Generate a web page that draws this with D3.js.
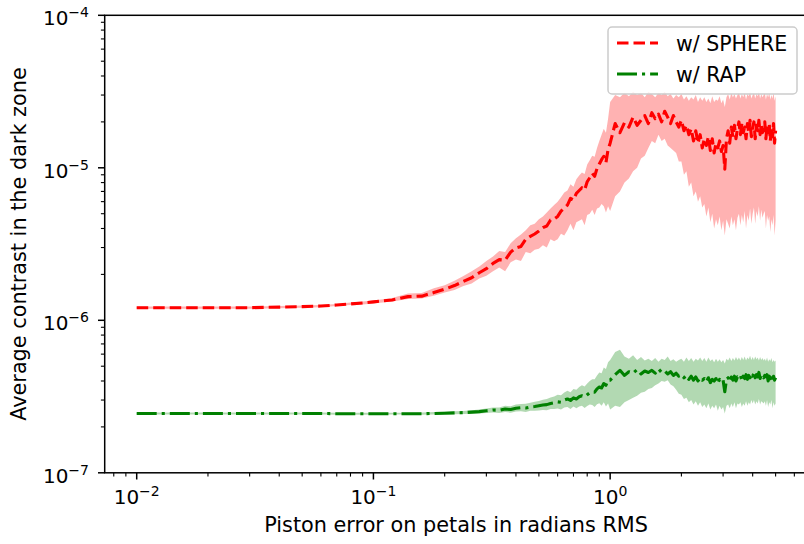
<!DOCTYPE html>
<html>
<head>
<meta charset="utf-8">
<script src="https://d3js.org/d3.v7.min.js"></script>
<style>
  body { margin: 0; background: #fff; }
  text { font-family: "DejaVu Sans", sans-serif; fill: #000; }
</style>
</head>
<body>
<svg id="chart" width="804" height="544"></svg>
<script>
// piston error (rad RMS)
var pistonRms = [
  0.01, 0.015, 0.02, 0.03, 0.04, 0.05, 0.06, 0.07, 0.08, 0.09, 0.10,
  0.12, 0.14, 0.16, 0.18, 0.20, 0.22, 0.24, 0.26, 0.28, 0.30, 0.32, 0.34, 0.36, 0.38, 0.40,
  0.42, 0.44, 0.46, 0.48, 0.50, 0.52, 0.54, 0.56, 0.58, 0.60, 0.62, 0.64, 0.66, 0.68, 0.70,
  0.72, 0.74, 0.76, 0.78, 0.80, 0.82, 0.84, 0.86, 0.88, 0.90, 0.92, 0.94, 0.96, 0.98,
  1.00, 1.05, 1.10, 1.15, 1.20, 1.25, 1.30, 1.35, 1.40, 1.45,
  1.50, 1.55, 1.60, 1.65, 1.70, 1.75, 1.80, 1.85, 1.90, 1.95,
  2.00, 2.05, 2.10, 2.15, 2.20, 2.25, 2.30, 2.35, 2.40, 2.45,
  2.50, 2.55, 2.60, 2.65, 2.70, 2.75, 2.80, 2.85, 2.90, 2.95,
  3.00, 3.05, 3.10, 3.15, 3.20, 3.25, 3.30, 3.35, 3.40, 3.45,
  3.50, 3.55, 3.60, 3.65, 3.70, 3.75, 3.80, 3.85, 3.90, 3.95,
  4.00, 4.05, 4.10, 4.15, 4.20, 4.25, 4.30, 4.35, 4.40, 4.45,
  4.50, 4.55, 4.60, 4.65, 4.70, 4.75, 4.80, 4.85, 4.90, 4.95,
  5.00
];

// w/ SPHERE, in units of 1e-6
var sphereMean = [
  1.21, 1.21, 1.21, 1.21, 1.22, 1.23, 1.24, 1.26, 1.28, 1.30, 1.32,
  1.36, 1.43, 1.44, 1.52, 1.60, 1.69, 1.80, 1.90, 2.05, 2.18, 2.36, 2.50, 2.48, 2.80, 2.98,
  3.05, 3.40, 3.55, 3.68, 3.85, 4.05, 4.15, 4.55, 4.62, 4.80, 5.20, 5.45, 5.70, 6.30, 6.15,
  6.80, 7.10, 7.40, 7.15, 8.10, 8.60, 9.20, 8.80, 9.90, 10.6, 11.3, 11.9, 10.8, 13.2,
  14.5, 19.5, 17.0, 19.8, 18.5, 21.5, 19.0, 20.5, 22.0, 19.5,
  23.0, 21.0, 22.5, 20.0, 23.5, 21.5, 19.5, 22.0, 20.0, 18.5,
  20.5, 17.5, 19.0, 16.5, 18.0, 15.0, 17.5, 14.5, 16.5, 13.5,
  15.5, 14.0, 16.0, 13.0, 15.5, 12.5, 14.5, 13.5, 15.0, 12.8,
  14.0, 9.8, 15.5, 17.5, 14.5, 18.5, 16.0, 19.0, 15.5, 18.0,
  20.0, 16.5, 19.5, 17.0, 18.5, 15.5, 19.5, 17.0, 20.5, 16.0,
  18.5, 20.0, 15.5, 19.0, 17.5, 20.5, 16.5, 19.5, 17.0, 18.0,
  20.0, 15.5, 19.0, 17.0, 19.5, 15.0, 18.5, 16.0, 19.5, 14.5,
  17.5
];
var sphereLo = [
  1.19, 1.19, 1.19, 1.19, 1.20, 1.21, 1.22, 1.24, 1.26, 1.27, 1.29,
  1.33, 1.38, 1.39, 1.45, 1.52, 1.58, 1.68, 1.74, 1.88, 1.96, 2.10, 2.22, 2.10, 2.40, 2.50,
  2.45, 2.80, 2.75, 2.90, 2.95, 3.10, 3.00, 3.40, 3.30, 3.40, 3.70, 3.60, 3.90, 4.30, 3.90,
  4.40, 4.50, 4.60, 4.20, 4.90, 5.00, 5.30, 4.90, 5.40, 5.50, 5.80, 5.60, 5.10, 5.60,
  5.2, 6.5, 7.0, 8.0, 8.5, 9.5, 10.0, 11.5, 12.0, 13.5,
  15.0, 14.5, 16.5, 15.0, 15.5, 14.0, 13.5, 13.0, 12.5, 11.0,
  11.0, 9.0, 9.5, 7.5, 8.0, 6.5, 7.0, 6.0, 6.5, 5.5,
  5.8, 4.8, 5.5, 4.4, 5.0, 4.0, 4.6, 4.2, 4.8, 3.9,
  4.5, 3.6, 4.6, 4.3, 4.0, 4.8, 4.2, 4.6, 3.9, 4.7,
  5.0, 4.2, 4.9, 4.4, 5.2, 4.0, 4.9, 4.5, 5.4, 4.3,
  5.0, 5.5, 4.3, 5.2, 4.8, 5.6, 4.5, 5.3, 4.7, 5.0,
  5.2, 4.0, 4.9, 4.5, 4.8, 3.8, 4.6, 4.2, 4.9, 3.6,
  4.5
];
var sphereHi = [
  1.23, 1.23, 1.23, 1.23, 1.24, 1.25, 1.26, 1.28, 1.31, 1.33, 1.35,
  1.40, 1.50, 1.51, 1.62, 1.70, 1.82, 1.95, 2.10, 2.25, 2.45, 2.62, 2.85, 2.80, 3.20, 3.45,
  3.65, 3.90, 4.20, 4.30, 4.60, 4.80, 5.10, 5.40, 5.70, 6.00, 6.40, 6.90, 7.10, 7.80, 7.50,
  8.40, 8.90, 9.30, 9.10, 10.5, 11.2, 12.0, 11.8, 13.5, 15.0, 16.5, 18.0, 17.0, 21.0,
  27.0, 30.0, 29.0, 31.0, 29.5, 31.5, 30.0, 31.0, 29.0, 31.5,
  30.5, 29.0, 31.0, 30.0, 31.5, 29.5, 30.5, 28.5, 30.0, 29.0,
  30.5, 28.0, 29.5, 27.5, 29.0, 28.0, 30.0, 27.0, 29.0, 27.5,
  29.0, 27.0, 28.5, 26.5, 29.5, 27.0, 28.0, 27.5, 29.5, 26.5,
  28.0, 25.0, 29.0, 30.5, 28.0, 31.0, 29.0, 30.5, 28.5, 30.0,
  31.0, 28.5, 30.5, 29.0, 31.0, 28.0, 30.5, 29.5, 31.5, 28.5,
  30.0, 31.0, 28.5, 30.5, 29.5, 31.5, 28.5, 30.5, 29.0, 30.0,
  31.0, 28.0, 30.5, 29.0, 31.0, 28.0, 30.0, 28.5, 31.0, 27.5,
  29.5
];

// w/ RAP, in units of 1e-7
var rapMean = [
  2.45, 2.45, 2.45, 2.45, 2.45, 2.45, 2.45, 2.44, 2.44, 2.44, 2.44,
  2.44, 2.44, 2.44, 2.45, 2.46, 2.47, 2.48, 2.50, 2.52, 2.55, 2.58, 2.57, 2.62, 2.60, 2.65,
  2.67, 2.66, 2.70, 2.72, 2.75, 2.78, 2.80, 2.85, 2.88, 2.92, 2.90, 3.00, 3.05, 2.98, 3.10,
  3.05, 3.15, 3.20, 3.15, 3.25, 3.35, 3.40, 3.38, 3.55, 3.65, 3.60, 3.85, 3.75, 4.05,
  4.05, 4.40, 4.70, 4.35, 4.60, 4.50, 4.75, 4.45, 4.65, 4.55,
  4.70, 4.50, 4.80, 4.55, 4.65, 4.45, 4.60, 4.35, 4.50, 4.30,
  4.40, 4.20, 4.35, 4.10, 4.30, 4.05, 4.25, 4.00, 4.20, 4.05,
  4.15, 3.95, 4.20, 3.90, 4.10, 4.00, 4.15, 3.85, 4.10, 3.95,
  4.05, 3.40, 4.10, 4.20, 3.95, 4.25, 4.05, 4.30, 4.00, 4.25,
  4.20, 4.35, 4.05, 4.30, 4.15, 4.40, 4.10, 4.35, 4.20, 4.45,
  4.30, 4.50, 4.20, 4.40, 4.25, 4.55, 4.15, 4.40, 4.30, 4.20,
  4.35, 4.10, 4.40, 4.00, 4.30, 4.15, 4.45, 3.95, 4.30, 4.05,
  4.20
];
var rapLo = [
  2.41, 2.41, 2.41, 2.41, 2.41, 2.41, 2.41, 2.40, 2.40, 2.40, 2.40,
  2.41, 2.41, 2.40, 2.41, 2.42, 2.42, 2.43, 2.44, 2.45, 2.47, 2.49, 2.47, 2.50, 2.48, 2.52,
  2.53, 2.50, 2.55, 2.55, 2.56, 2.58, 2.57, 2.62, 2.62, 2.64, 2.60, 2.68, 2.70, 2.62, 2.72,
  2.65, 2.72, 2.75, 2.66, 2.74, 2.80, 2.78, 2.70, 2.82, 2.86, 2.75, 2.90, 2.72, 2.85,
  2.60, 2.75, 2.70, 2.90, 3.00, 3.10, 3.20, 3.35, 3.40, 3.55,
  3.60, 3.75, 3.85, 4.00, 3.95, 4.05, 3.80, 3.70, 3.50, 3.30,
  3.25, 3.05, 3.10, 2.90, 3.00, 2.80, 2.95, 2.75, 2.90, 2.70,
  2.80, 2.65, 2.85, 2.60, 2.75, 2.65, 2.80, 2.55, 2.75, 2.60,
  2.70, 2.45, 2.75, 2.80, 2.65, 2.85, 2.70, 2.90, 2.65, 2.85,
  2.80, 2.90, 2.70, 2.85, 2.75, 2.95, 2.75, 2.90, 2.80, 3.00,
  2.85, 3.00, 2.80, 2.95, 2.85, 3.05, 2.80, 2.95, 2.90, 2.85,
  2.95, 2.75, 3.00, 2.70, 2.90, 2.80, 3.00, 2.65, 2.90, 2.75,
  2.85
];
var rapHi = [
  2.49, 2.49, 2.49, 2.49, 2.49, 2.49, 2.49, 2.48, 2.48, 2.48, 2.48,
  2.48, 2.48, 2.49, 2.50, 2.51, 2.53, 2.54, 2.57, 2.60, 2.64, 2.68, 2.68, 2.75, 2.73, 2.80,
  2.83, 2.84, 2.88, 2.92, 2.96, 3.01, 3.05, 3.12, 3.16, 3.25, 3.22, 3.36, 3.45, 3.38, 3.55,
  3.50, 3.65, 3.75, 3.68, 3.85, 4.00, 4.10, 4.10, 4.35, 4.55, 4.50, 4.90, 4.80, 5.30,
  5.50, 6.20, 6.40, 5.80, 5.60, 5.90, 5.50, 5.75, 5.45, 5.60,
  5.40, 5.65, 5.35, 5.60, 5.50, 5.80, 5.40, 5.55, 5.35, 5.50,
  5.60, 5.35, 5.70, 5.40, 5.65, 5.35, 5.60, 5.45, 5.70, 5.40,
  5.65, 5.35, 5.70, 5.40, 5.55, 5.30, 5.60, 5.35, 5.55, 5.30,
  5.50, 5.20, 5.60, 5.45, 5.70, 5.40, 5.65, 5.45, 5.75, 5.50,
  5.70, 5.45, 5.75, 5.50, 5.80, 5.45, 5.70, 5.55, 5.85, 5.50,
  5.75, 5.50, 5.80, 5.55, 5.70, 5.45, 5.75, 5.50, 5.65, 5.45,
  5.60, 5.40, 5.70, 5.35, 5.55, 5.40, 5.65, 5.30, 5.50, 5.35,
  5.45
];

var xMajorTicks = [0.01, 0.1, 1];
var yMajorTicks = [1e-7, 1e-6, 1e-5, 1e-4];
var seriesNames = ["w/ SPHERE", "w/ RAP"];

var svg = d3.select("#chart");
var plot = { left: 104.7, right: 807.5, top: 15.3, bottom: 472.8 };
var fsLabel = 20.8, fsTick = 20, fsLegend = 20.5;

var x = d3.scaleLog()
    .domain([Math.pow(10, -2.1352), Math.pow(10, 0.8337)])
    .range([plot.left, plot.right]);
var y = d3.scaleLog()
    .domain([1e-7, 1e-4])
    .range([plot.bottom, plot.top]);

svg.append("defs").append("clipPath").attr("id", "clip")
    .append("rect")
    .attr("x", plot.left).attr("y", plot.top)
    .attr("width", plot.right - plot.left).attr("height", plot.bottom - plot.top);

function rows(mean, lo, hi, unit) {
    return pistonRms.map(function (p, i) {
        return { x: p, m: mean[i] * unit, lo: lo[i] * unit, hi: hi[i] * unit };
    });
}
var sphere = rows(sphereMean, sphereLo, sphereHi, 1e-6);
var rap = rows(rapMean, rapLo, rapHi, 1e-7);

var area = d3.area()
    .x(function (d) { return x(d.x); })
    .y0(function (d) { return y(d.lo); })
    .y1(function (d) { return y(d.hi); });
var line = d3.line()
    .x(function (d) { return x(d.x); })
    .y(function (d) { return y(d.m); });

var g = svg.append("g").attr("clip-path", "url(#clip)");

var series = [
    { data: sphere, color: "#ff0000", dash: "11.5,5" },
    { data: rap, color: "#008000", dash: "20,5,3.1,5" }
];
series.forEach(function (s) {
    g.append("path").datum(s.data)
        .attr("d", area)
        .attr("fill", s.color).attr("fill-opacity", 0.3)
        .attr("stroke", "none");
    g.append("path").datum(s.data)
        .attr("d", line)
        .attr("fill", "none")
        .attr("stroke", s.color)
        .attr("stroke-width", 3.1)
        .attr("stroke-dasharray", s.dash)
        .attr("stroke-linejoin", "round");
});

// minor ticks
var xMinor = [];
[-3, -2, -1, 0].forEach(function (e) {
    for (var k = 2; k <= 9; k++) {
        var v = k * Math.pow(10, e);
        if (v >= x.domain()[0] && v <= x.domain()[1]) xMinor.push(v);
    }
});
var yMinor = [];
[-7, -6, -5].forEach(function (e) {
    for (var k = 2; k <= 9; k++) yMinor.push(k * Math.pow(10, e));
});

var axes = svg.append("g").attr("stroke", "#000");
axes.selectAll(".xminor").data(xMinor).enter().append("line")
    .attr("x1", function (d) { return x(d); }).attr("x2", function (d) { return x(d); })
    .attr("y1", plot.bottom).attr("y2", plot.bottom + 3.8)
    .attr("stroke-width", 1.1);
axes.selectAll(".xmajor").data(xMajorTicks).enter().append("line")
    .attr("x1", function (d) { return x(d); }).attr("x2", function (d) { return x(d); })
    .attr("y1", plot.bottom).attr("y2", plot.bottom + 6.7)
    .attr("stroke-width", 1.5);
axes.selectAll(".yminor").data(yMinor).enter().append("line")
    .attr("y1", function (d) { return y(d); }).attr("y2", function (d) { return y(d); })
    .attr("x1", plot.left).attr("x2", plot.left - 3.8)
    .attr("stroke-width", 1.1);
axes.selectAll(".ymajor").data(yMajorTicks).enter().append("line")
    .attr("y1", function (d) { return y(d); }).attr("y2", function (d) { return y(d); })
    .attr("x1", plot.left).attr("x2", plot.left - 6.7)
    .attr("stroke-width", 1.5);

// spines
svg.append("rect")
    .attr("x", plot.left).attr("y", plot.top)
    .attr("width", plot.right - plot.left).attr("height", plot.bottom - plot.top)
    .attr("fill", "none").attr("stroke", "#000").attr("stroke-width", 1.5);

function powLabel(sel, d) {
    var e = Math.round(Math.log10(d));
    sel.append("tspan").text("10");
    sel.append("tspan")
        .attr("dy", -8)
        .attr("font-size", fsTick * 0.7)
        .text(e < 0 ? "\u2212" + (-e) : String(e));
}

svg.selectAll(".xlab").data(xMajorTicks).enter().append("text")
    .attr("x", function (d) { return x(d); })
    .attr("y", plot.bottom + 31.5)
    .attr("text-anchor", "middle")
    .attr("font-size", fsTick)
    .each(function (d) { powLabel(d3.select(this), d); });

svg.selectAll(".ylab").data(yMajorTicks).enter().append("text")
    .attr("x", 89)
    .attr("y", function (d) { return y(d) + 9.7; })
    .attr("text-anchor", "end")
    .attr("font-size", fsTick)
    .each(function (d) { powLabel(d3.select(this), d); });

svg.append("text")
    .attr("x", (plot.left + plot.right) / 2)
    .attr("y", 532)
    .attr("text-anchor", "middle")
    .attr("font-size", fsLabel)
    .text("Piston error on petals in radians RMS");

svg.append("text")
    .attr("transform", "translate(26," + ((plot.top + plot.bottom) / 2) + ") rotate(-90)")
    .attr("text-anchor", "middle")
    .attr("font-size", fsLabel)
    .text("Average contrast in the dark zone");

// legend
var leg = svg.append("g");
leg.append("rect")
    .attr("x", 608).attr("y", 27).attr("width", 189).attr("height", 67)
    .attr("rx", 4).attr("ry", 4)
    .attr("fill", "#fff").attr("fill-opacity", 0.8)
    .attr("stroke", "#cccccc").attr("stroke-width", 1.5);
series.forEach(function (s, i) {
    var cy = 43 + i * 31;
    leg.append("line")
        .attr("x1", 617).attr("x2", 658)
        .attr("y1", cy).attr("y2", cy)
        .attr("stroke", s.color).attr("stroke-width", 3.1)
        .attr("stroke-dasharray", s.dash);
    leg.append("text")
        .attr("x", 676).attr("y", cy + 7.5)
        .attr("font-size", fsLegend)
        .text(seriesNames[i]);
});
</script>
</body>
</html>
